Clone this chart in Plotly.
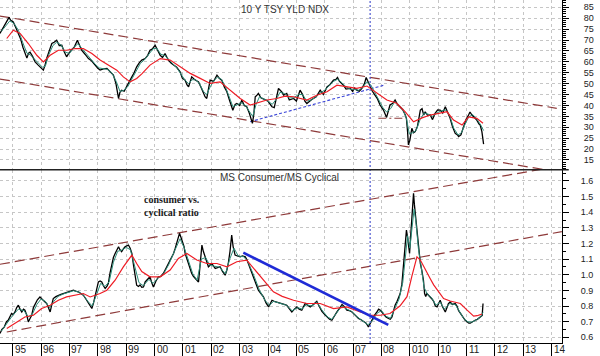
import plotly.graph_objects as go

# ---------------- data (decimal year, value) ----------------
tsy_close = [
    (1994.55, 73.0), (1994.62, 74.5), (1994.70, 76.5), (1994.78, 78.0), (1994.87, 80.4), (1994.93, 79.0),
    (1995.02, 78.3), (1995.10, 76.0), (1995.19, 73.6), (1995.28, 70.5), (1995.36, 66.7), (1995.44, 63.5),
    (1995.50, 61.7), (1995.56, 64.0), (1995.61, 64.4), (1995.70, 62.5), (1995.79, 60.0), (1995.90, 58.5),
    (1996.02, 57.0), (1996.08, 56.2), (1996.14, 58.5), (1996.20, 61.7), (1996.30, 65.5), (1996.38, 68.4),
    (1996.46, 69.0), (1996.55, 69.9), (1996.64, 67.5), (1996.73, 67.6), (1996.82, 64.5), (1996.90, 62.3),
    (1996.98, 64.0), (1997.08, 65.3), (1997.18, 67.0), (1997.28, 69.9), (1997.36, 67.5), (1997.43, 65.3),
    (1997.55, 63.5), (1997.67, 61.5), (1997.78, 60.5), (1997.90, 58.5), (1998.00, 57.0), (1998.08, 56.2),
    (1998.20, 56.8), (1998.32, 57.0), (1998.44, 55.5), (1998.55, 53.9), (1998.64, 50.0), (1998.73, 43.2),
    (1998.78, 46.0), (1998.84, 47.0), (1998.93, 46.5), (1999.02, 48.5), (1999.10, 50.5), (1999.20, 53.1),
    (1999.28, 55.0), (1999.37, 57.7), (1999.46, 59.5), (1999.55, 60.8), (1999.67, 61.5), (1999.76, 63.0),
    (1999.84, 65.3), (1999.93, 66.0), (2000.02, 67.6), (2000.10, 65.5), (2000.20, 63.0), (2000.28, 62.0),
    (2000.37, 63.8), (2000.44, 62.0), (2000.49, 60.8), (2000.58, 59.5), (2000.67, 58.5), (2000.78, 57.5),
    (2000.90, 55.4), (2000.98, 52.5), (2001.08, 51.6), (2001.14, 49.5), (2001.20, 48.5), (2001.26, 50.5),
    (2001.31, 53.1), (2001.40, 52.0), (2001.48, 51.5), (2001.55, 50.8), (2001.65, 48.0), (2001.72, 46.0),
    (2001.78, 44.0), (2001.84, 43.2), (2001.90, 47.0), (2001.96, 51.6), (2002.08, 51.0), (2002.20, 53.9),
    (2002.28, 52.5), (2002.37, 51.6), (2002.46, 48.5), (2002.55, 46.3), (2002.64, 42.5), (2002.72, 39.4),
    (2002.76, 37.8), (2002.84, 40.5), (2002.90, 40.9), (2003.00, 40.0), (2003.08, 42.5), (2003.16, 40.0),
    (2003.25, 39.4), (2003.34, 36.5), (2003.40, 34.0), (2003.45, 31.8), (2003.50, 36.0), (2003.55, 44.0),
    (2003.60, 44.5), (2003.66, 45.5), (2003.75, 43.5), (2003.84, 43.0), (2003.90, 42.5), (2004.00, 42.0),
    (2004.08, 40.5), (2004.14, 39.4), (2004.22, 39.0), (2004.30, 44.5), (2004.37, 47.8), (2004.43, 47.0),
    (2004.50, 46.0), (2004.55, 44.7), (2004.66, 45.5), (2004.75, 42.5), (2004.84, 43.0), (2004.90, 43.2),
    (2005.00, 42.0), (2005.13, 47.0), (2005.22, 45.0), (2005.30, 42.0), (2005.37, 40.9), (2005.45, 42.0),
    (2005.52, 42.5), (2005.60, 43.2), (2005.70, 44.0), (2005.84, 47.0), (2005.95, 45.0), (2006.08, 48.5),
    (2006.18, 49.5), (2006.31, 51.6), (2006.40, 52.0), (2006.45, 52.8), (2006.52, 51.0), (2006.60, 50.0),
    (2006.66, 49.3), (2006.75, 47.5), (2006.90, 47.8), (2006.98, 46.5), (2007.05, 48.0), (2007.13, 47.0),
    (2007.22, 46.5), (2007.31, 47.8), (2007.40, 50.0), (2007.46, 52.8), (2007.52, 51.0), (2007.60, 49.3),
    (2007.68, 46.5), (2007.77, 44.7), (2007.86, 43.0), (2007.95, 40.2), (2008.03, 38.5), (2008.07, 37.9),
    (2008.18, 34.5), (2008.30, 40.2), (2008.40, 41.0), (2008.48, 42.5), (2008.56, 40.5), (2008.65, 39.4),
    (2008.75, 38.0), (2008.84, 35.6), (2008.88, 34.0), (2008.92, 28.0), (2008.95, 21.9), (2009.00, 24.0),
    (2009.07, 29.5), (2009.13, 27.5), (2009.19, 28.0), (2009.27, 30.5), (2009.37, 37.9), (2009.43, 38.5),
    (2009.49, 35.6), (2009.54, 37.1), (2009.63, 35.5), (2009.72, 35.6), (2009.80, 33.5), (2009.89, 36.4),
    (2009.98, 38.0), (2010.07, 37.9), (2010.16, 36.5), (2010.25, 39.4), (2010.33, 37.0), (2010.42, 34.1),
    (2010.50, 30.5), (2010.60, 27.2), (2010.68, 26.5), (2010.72, 25.7), (2010.80, 26.5), (2010.90, 31.0),
    (2010.98, 33.5), (2011.07, 35.6), (2011.12, 37.0), (2011.19, 35.6), (2011.28, 34.5), (2011.36, 33.3),
    (2011.44, 31.5), (2011.48, 31.0), (2011.54, 28.0), (2011.58, 25.0), (2011.60, 22.3),
]
tsy_short_avg = [
    (1994.60, 74.0), (1994.75, 76.5), (1994.90, 78.8), (1995.05, 77.5), (1995.20, 74.5), (1995.35, 69.0),
    (1995.50, 64.0), (1995.62, 63.2), (1995.75, 61.5), (1995.90, 59.2), (1996.05, 57.5), (1996.15, 58.0),
    (1996.28, 63.5), (1996.42, 67.5), (1996.55, 69.0), (1996.70, 67.8), (1996.85, 64.5), (1997.00, 63.8),
    (1997.15, 66.5), (1997.30, 68.3), (1997.45, 66.0), (1997.60, 63.5), (1997.75, 61.0), (1997.90, 59.0),
    (1998.05, 57.2), (1998.20, 56.8), (1998.35, 56.5), (1998.50, 54.8), (1998.65, 51.0), (1998.78, 46.5),
    (1998.90, 46.8), (1999.05, 48.5), (1999.20, 52.0), (1999.35, 56.0), (1999.50, 59.3), (1999.65, 61.0),
    (1999.80, 63.8), (1999.95, 66.0), (2000.08, 66.2), (2000.22, 63.5), (2000.37, 62.8), (2000.50, 61.0),
    (2000.65, 59.0), (2000.80, 57.0), (2000.95, 54.0), (2001.08, 51.5), (2001.20, 50.0), (2001.32, 51.8),
    (2001.45, 51.8), (2001.58, 50.0), (2001.72, 46.5), (2001.84, 45.0), (2001.96, 48.5), (2002.10, 51.5),
    (2002.22, 53.0), (2002.36, 52.0), (2002.50, 48.5), (2002.62, 44.0), (2002.76, 39.5), (2002.90, 40.2),
    (2003.05, 41.2), (2003.20, 40.0), (2003.35, 37.0), (2003.46, 35.0), (2003.58, 40.5), (2003.70, 44.0),
    (2003.85, 43.0), (2004.00, 42.0), (2004.15, 40.5), (2004.30, 43.0), (2004.42, 46.0), (2004.58, 45.5),
    (2004.75, 43.5), (2004.90, 43.5), (2005.08, 45.0), (2005.22, 45.0), (2005.37, 42.0), (2005.52, 42.5),
    (2005.68, 43.8), (2005.84, 45.8), (2006.00, 47.0), (2006.15, 49.0), (2006.30, 51.0), (2006.45, 52.0),
    (2006.60, 50.5), (2006.75, 48.5), (2006.90, 47.5), (2007.05, 47.3), (2007.20, 47.0), (2007.35, 48.5),
    (2007.48, 50.8), (2007.62, 49.5), (2007.77, 46.0), (2007.92, 42.0), (2008.05, 39.0), (2008.18, 37.0),
    (2008.32, 38.5), (2008.46, 41.5), (2008.60, 40.5), (2008.75, 38.5), (2008.88, 34.0), (2008.98, 27.0),
    (2009.10, 27.5), (2009.22, 28.5), (2009.36, 33.5), (2009.50, 36.5), (2009.65, 36.0), (2009.80, 35.0),
    (2009.95, 36.5), (2010.10, 37.5), (2010.25, 38.0), (2010.40, 35.5), (2010.55, 29.5), (2010.70, 26.5),
    (2010.82, 27.5), (2010.95, 31.5), (2011.08, 34.8), (2011.22, 35.8), (2011.36, 33.8), (2011.50, 31.0),
    (2011.60, 28.5),
]
tsy_long_avg = [
    (1994.79, 70.7), (1995.02, 74.5), (1995.26, 73.0), (1995.55, 68.4), (1995.85, 63.0), (1996.08, 60.0),
    (1996.32, 63.0), (1996.61, 65.3), (1996.90, 65.3), (1997.20, 66.1), (1997.49, 66.1), (1997.79, 63.8),
    (1998.08, 60.8), (1998.37, 58.5), (1998.67, 56.2), (1998.90, 53.1), (1999.14, 50.8), (1999.37, 52.4),
    (1999.55, 54.5), (1999.84, 58.5), (2000.20, 61.5), (2000.55, 60.8), (2000.90, 57.7), (2001.26, 54.7),
    (2001.61, 52.4), (2001.96, 50.1), (2002.31, 50.8), (2002.66, 47.0), (2003.02, 43.2), (2003.37, 40.2),
    (2003.60, 41.0), (2003.96, 42.5), (2004.31, 43.2), (2004.60, 44.3), (2004.90, 44.0), (2005.37, 42.5),
    (2005.72, 44.7), (2006.08, 46.3), (2006.43, 49.3), (2006.78, 48.5), (2007.13, 47.8), (2007.49, 48.9),
    (2007.84, 45.5), (2008.19, 42.5), (2008.54, 41.0), (2008.84, 37.1), (2009.13, 32.5), (2009.43, 34.3),
    (2009.72, 35.6), (2010.07, 36.4), (2010.31, 37.1), (2010.54, 33.3), (2010.84, 31.0), (2011.07, 34.8),
    (2011.36, 34.1), (2011.58, 31.8),
]

ratio_close = [
    (1994.55, 0.624), (1994.62, 0.650), (1994.70, 0.665), (1994.78, 0.700), (1994.84, 0.709), (1994.90, 0.735),
    (1994.96, 0.752), (1995.02, 0.745), (1995.08, 0.762), (1995.14, 0.790), (1995.20, 0.805), (1995.26, 0.780),
    (1995.32, 0.762), (1995.38, 0.780), (1995.43, 0.773), (1995.50, 0.740), (1995.55, 0.698), (1995.61, 0.720),
    (1995.67, 0.741), (1995.73, 0.790), (1995.79, 0.816), (1995.87, 0.840), (1995.96, 0.858), (1996.02, 0.845),
    (1996.08, 0.837), (1996.14, 0.825), (1996.20, 0.816), (1996.26, 0.790), (1996.32, 0.762), (1996.38, 0.810),
    (1996.43, 0.848), (1996.52, 0.860), (1996.61, 0.869), (1996.70, 0.875), (1996.78, 0.880), (1996.87, 0.885),
    (1996.96, 0.891), (1997.05, 0.895), (1997.14, 0.901), (1997.22, 0.895), (1997.31, 0.891), (1997.40, 0.880),
    (1997.49, 0.869), (1997.58, 0.845), (1997.67, 0.816), (1997.73, 0.800), (1997.79, 0.784), (1997.85, 0.820),
    (1997.90, 0.858), (1997.96, 0.910), (1998.02, 0.954), (1998.08, 0.960), (1998.14, 0.954), (1998.20, 0.930),
    (1998.26, 0.912), (1998.32, 0.925), (1998.37, 0.944), (1998.43, 1.010), (1998.49, 1.072), (1998.55, 1.110),
    (1998.61, 1.136), (1998.67, 1.160), (1998.73, 1.179), (1998.78, 1.160), (1998.84, 1.147), (1998.90, 1.165),
    (1998.96, 1.179), (1999.02, 1.185), (1999.08, 1.190), (1999.14, 1.170), (1999.20, 1.136), (1999.26, 1.060),
    (1999.31, 0.987), (1999.37, 0.933), (1999.43, 0.925), (1999.49, 0.935), (1999.55, 0.920), (1999.61, 0.922),
    (1999.67, 0.954), (1999.75, 0.970), (1999.84, 0.987), (1999.90, 0.950), (1999.96, 0.922), (2000.05, 0.960),
    (2000.14, 0.987), (2000.22, 0.990), (2000.31, 1.008), (2000.40, 1.040), (2000.49, 1.072), (2000.58, 1.100),
    (2000.67, 1.136), (2000.73, 1.170), (2000.78, 1.200), (2000.83, 1.230), (2000.88, 1.265), (2000.94, 1.235),
    (2000.99, 1.211), (2001.04, 1.180), (2001.08, 1.136), (2001.14, 1.100), (2001.20, 1.072), (2001.26, 1.040),
    (2001.31, 1.008), (2001.37, 0.990), (2001.43, 0.976), (2001.49, 0.965), (2001.55, 0.954), (2001.60, 1.050),
    (2001.64, 1.150), (2001.67, 1.190), (2001.72, 1.150), (2001.78, 1.115), (2001.84, 1.080), (2001.90, 1.051),
    (2001.96, 1.060), (2002.02, 1.072), (2002.08, 1.055), (2002.14, 1.040), (2002.22, 1.045), (2002.31, 1.051),
    (2002.40, 1.020), (2002.49, 0.997), (2002.55, 1.030), (2002.60, 1.072), (2002.66, 1.150), (2002.72, 1.254),
    (2002.77, 1.180), (2002.84, 1.126), (2002.92, 1.120), (2003.02, 1.115), (2003.10, 1.120), (2003.20, 1.115),
    (2003.26, 1.095), (2003.31, 1.072), (2003.40, 1.030), (2003.49, 0.987), (2003.57, 0.945), (2003.66, 0.901),
    (2003.75, 0.880), (2003.84, 0.858), (2003.93, 0.820), (2004.02, 0.794), (2004.08, 0.815), (2004.14, 0.837),
    (2004.22, 0.830), (2004.31, 0.826), (2004.40, 0.820), (2004.49, 0.816), (2004.57, 0.810), (2004.66, 0.805),
    (2004.75, 0.780), (2004.84, 0.762), (2004.93, 0.780), (2005.02, 0.794), (2005.10, 0.780), (2005.19, 0.773),
    (2005.25, 0.795), (2005.31, 0.816), (2005.40, 0.805), (2005.49, 0.794), (2005.60, 0.810), (2005.72, 0.830),
    (2005.80, 0.800), (2005.90, 0.765), (2006.00, 0.745), (2006.08, 0.730), (2006.17, 0.715), (2006.25, 0.709),
    (2006.34, 0.740), (2006.43, 0.762), (2006.52, 0.785), (2006.61, 0.810), (2006.70, 0.795), (2006.78, 0.773),
    (2006.87, 0.770), (2006.96, 0.762), (2007.08, 0.740), (2007.19, 0.720), (2007.28, 0.712), (2007.37, 0.700),
    (2007.46, 0.690), (2007.54, 0.666), (2007.60, 0.690), (2007.66, 0.709), (2007.75, 0.740), (2007.84, 0.762),
    (2007.90, 0.780), (2007.96, 0.773), (2008.02, 0.760), (2008.07, 0.745), (2008.16, 0.730), (2008.25, 0.720),
    (2008.31, 0.715), (2008.37, 0.730), (2008.43, 0.770), (2008.48, 0.805), (2008.55, 0.830), (2008.60, 0.850),
    (2008.66, 0.880), (2008.72, 0.940), (2008.77, 1.060), (2008.81, 1.180), (2008.84, 1.222), (2008.88, 1.286),
    (2008.92, 1.240), (2008.96, 1.180), (2008.99, 1.136), (2009.03, 1.250), (2009.07, 1.350), (2009.11, 1.460),
    (2009.13, 1.521), (2009.16, 1.450), (2009.19, 1.393), (2009.23, 1.300), (2009.27, 1.222), (2009.32, 1.130),
    (2009.37, 1.072), (2009.42, 1.030), (2009.48, 0.965), (2009.52, 0.880), (2009.56, 0.860), (2009.60, 0.880),
    (2009.66, 0.870), (2009.72, 0.858), (2009.78, 0.845), (2009.84, 0.830), (2009.90, 0.800), (2009.96, 0.794),
    (2010.02, 0.820), (2010.07, 0.837), (2010.14, 0.800), (2010.20, 0.775), (2010.25, 0.762), (2010.31, 0.790),
    (2010.36, 0.815), (2010.42, 0.826), (2010.50, 0.810), (2010.60, 0.816), (2010.66, 0.800), (2010.72, 0.770),
    (2010.78, 0.752), (2010.86, 0.735), (2010.95, 0.709), (2011.02, 0.700), (2011.08, 0.690), (2011.13, 0.690),
    (2011.20, 0.700), (2011.30, 0.709), (2011.38, 0.715), (2011.45, 0.725), (2011.50, 0.730), (2011.55, 0.740),
    (2011.58, 0.816),
]
ratio_short_avg = [
    (1994.60, 0.640), (1994.80, 0.690), (1995.00, 0.740), (1995.20, 0.780), (1995.40, 0.770), (1995.55, 0.730),
    (1995.70, 0.750), (1995.85, 0.810), (1996.00, 0.845), (1996.15, 0.830), (1996.30, 0.790), (1996.45, 0.830),
    (1996.60, 0.862), (1996.80, 0.878), (1997.00, 0.890), (1997.15, 0.898), (1997.35, 0.888), (1997.50, 0.868),
    (1997.65, 0.830), (1997.80, 0.800), (1997.95, 0.870), (1998.10, 0.945), (1998.25, 0.925), (1998.40, 0.955),
    (1998.55, 1.080), (1998.70, 1.150), (1998.85, 1.158), (1999.00, 1.175), (1999.15, 1.160), (1999.30, 1.050),
    (1999.45, 0.950), (1999.60, 0.930), (1999.80, 0.970), (1999.95, 0.945), (2000.10, 0.975), (2000.30, 1.000),
    (2000.50, 1.065), (2000.70, 1.150), (2000.90, 1.230), (2001.05, 1.170), (2001.20, 1.085), (2001.35, 1.005),
    (2001.50, 0.965), (2001.65, 1.100), (2001.80, 1.110), (2001.95, 1.060), (2002.10, 1.055), (2002.30, 1.048),
    (2002.50, 1.005), (2002.65, 1.100), (2002.80, 1.170), (2002.95, 1.120), (2003.15, 1.115), (2003.30, 1.080),
    (2003.50, 0.995), (2003.70, 0.900), (2003.90, 0.835), (2004.05, 0.805), (2004.20, 0.830), (2004.45, 0.818),
    (2004.65, 0.805), (2004.85, 0.770), (2005.05, 0.790), (2005.20, 0.780), (2005.35, 0.808), (2005.55, 0.800),
    (2005.72, 0.825), (2005.90, 0.775), (2006.10, 0.730), (2006.25, 0.715), (2006.42, 0.755), (2006.60, 0.800),
    (2006.78, 0.780), (2006.95, 0.765), (2007.15, 0.730), (2007.35, 0.705), (2007.52, 0.680), (2007.68, 0.705),
    (2007.85, 0.755), (2008.00, 0.770), (2008.15, 0.735), (2008.32, 0.722), (2008.48, 0.790), (2008.62, 0.845),
    (2008.75, 0.950), (2008.85, 1.150), (2008.92, 1.250), (2009.00, 1.170), (2009.08, 1.300), (2009.15, 1.420),
    (2009.22, 1.330), (2009.30, 1.170), (2009.40, 1.050), (2009.50, 0.920), (2009.62, 0.875), (2009.78, 0.850),
    (2009.92, 0.805), (2010.07, 0.825), (2010.22, 0.780), (2010.40, 0.815), (2010.60, 0.810), (2010.75, 0.765),
    (2010.90, 0.720), (2011.05, 0.698), (2011.20, 0.698), (2011.35, 0.712), (2011.50, 0.730), (2011.58, 0.760),
]
ratio_long_avg = [
    (1994.79, 0.656), (1995.14, 0.698), (1995.43, 0.730), (1995.73, 0.741), (1996.02, 0.784), (1996.32, 0.805),
    (1996.61, 0.837), (1996.90, 0.858), (1997.20, 0.869), (1997.49, 0.880), (1997.73, 0.858), (1998.08, 0.880),
    (1998.32, 0.901), (1998.61, 0.965), (1998.90, 1.050), (1999.20, 1.126), (1999.37, 1.072), (1999.55, 1.020),
    (1999.84, 0.987), (2000.20, 0.987), (2000.55, 1.030), (2000.84, 1.104), (2001.14, 1.136), (2001.49, 1.094),
    (2001.84, 1.072), (2002.20, 1.072), (2002.55, 1.051), (2002.90, 1.083), (2003.25, 1.094), (2003.55, 1.030),
    (2003.84, 0.965), (2004.19, 0.891), (2004.50, 0.862), (2004.90, 0.837), (2005.37, 0.816), (2005.84, 0.816),
    (2006.31, 0.784), (2006.78, 0.794), (2007.25, 0.762), (2007.60, 0.741), (2007.96, 0.741), (2008.30, 0.752),
    (2008.65, 0.800), (2008.90, 0.860), (2009.07, 0.990), (2009.25, 1.115), (2009.37, 1.094), (2009.60, 1.010),
    (2009.72, 0.975), (2009.84, 0.935), (2010.07, 0.880), (2010.19, 0.848), (2010.42, 0.832), (2010.54, 0.826),
    (2010.78, 0.816), (2011.01, 0.775), (2011.13, 0.755), (2011.25, 0.735), (2011.37, 0.738), (2011.54, 0.748),
]

# trend lines drawn on the chart: (start year, start value, end year, end value)
tsy_channel_upper = (1994.55, 81.0, 2014.18, 38.7)
tsy_channel_lower = (1994.55, 52.1, 2013.70, 10.7)
tsy_rising_support = (2003.37, 32.55, 2008.12, 49.4)
tsy_2008_floor = (2007.89, 34.1, 2008.83, 34.1)
ratio_channel_upper = (1994.55, 1.067, 2013.65, 1.675)
ratio_channel_lower = (1994.79, 0.634, 2014.36, 1.276)
ratio_downtrend = (2003.13, 1.141, 2008.24, 0.679)
marker_year = 2007.60

years = list(range(1995, 2015))
year_labels = ["95", "96", "97", "98", "99", "00", "01", "02", "03", "04",
               "05", "06", "07", "08", "010", "10", "11", "12", "13", "14"]
tsy_ticks = list(range(15, 90, 5))
ratio_ticks = [0.6, 0.7, 0.8, 0.9, 1.0, 1.1, 1.2, 1.3, 1.4, 1.5, 1.6]

# ---------------- styling ----------------
FONT = "Liberation Sans, Arial, sans-serif"
TREND = "#8e3a3a"
TEAL = "#2b8c78"
RED = "#ee1c25"
GRID = "#c6c6c6"
X_RANGE = [1994.552, 2014.364]

fig = go.Figure()


def add_series(pairs, color, width, xa, ya):
    xs, ys = zip(*pairs)
    fig.add_trace(go.Scatter(x=list(xs), y=list(ys), mode="lines", xaxis=xa, yaxis=ya,
                             line=dict(color=color, width=width), hoverinfo="skip"))


def add_trend(seg, color, width, dash, xa, ya):
    fig.add_trace(go.Scatter(x=[seg[0], seg[2]], y=[seg[1], seg[3]], mode="lines",
                             xaxis=xa, yaxis=ya, hoverinfo="skip",
                             line=dict(color=color, width=width, dash=dash)))


# top panel: 10 Y TSY YLD NDX
add_trend(tsy_channel_upper, TREND, 1.2, "10px,5px", "x2", "y2")
add_trend(tsy_channel_lower, TREND, 1.2, "10px,5px", "x2", "y2")
add_trend(tsy_rising_support, "#3b45d8", 1.1, "3px,2px", "x2", "y2")
add_series(tsy_close, "#000000", 1.3, "x2", "y2")
add_series(tsy_short_avg, TEAL, 1.0, "x2", "y2")
add_series(tsy_long_avg, RED, 1.2, "x2", "y2")
add_trend(tsy_2008_floor, TREND, 1.1, "8px,3px,2px,3px", "x2", "y2")

# bottom panel: MS Consumer / MS Cyclical
add_trend(ratio_channel_upper, TREND, 1.2, "10px,5px", "x", "y")
add_trend(ratio_channel_lower, TREND, 1.2, "10px,5px", "x", "y")
add_series(ratio_close, "#000000", 1.3, "x", "y")
add_series(ratio_short_avg, TEAL, 1.0, "x", "y")
add_series(ratio_long_avg, RED, 1.2, "x", "y")
add_trend(ratio_downtrend, "#1f2bd6", 2.6, "solid", "x", "y")

grid = dict(showgrid=True, gridcolor=GRID, gridwidth=1, griddash="3px,3px", zeroline=False)

fig.update_layout(
    width=600, height=356,
    margin=dict(l=0, r=38, t=0, b=13),
    paper_bgcolor="white", plot_bgcolor="white",
    showlegend=False,
    font=dict(family=FONT, size=9, color="#222"),
    xaxis=dict(domain=[0, 1], range=X_RANGE, anchor="y", tickmode="array", tickvals=years,
               ticks="outside", ticklen=13, tickcolor="#000", tickwidth=1,
               showticklabels=False, showline=True, linecolor="#000", linewidth=1, **grid),
    xaxis2=dict(domain=[0, 1], range=X_RANGE, anchor="y2", matches="x", tickmode="array",
                tickvals=years, ticks="", showticklabels=False, showline=False, **grid),
    yaxis=dict(domain=[0, 0.5044], range=[0.5635, 1.670], anchor="x", side="right",
               tickmode="array", tickvals=ratio_ticks, ticktext=[f"{v:.1f}" for v in ratio_ticks],
               ticks="outside", ticklen=6, tickcolor="#000", ticklabelstandoff=10,
               minor=dict(tickmode="linear", tick0=0, dtick=0.05, ticks="outside", ticklen=3,
                          tickcolor="#000", showgrid=False),
               showline=True, linecolor="#000", linewidth=1,
               tickfont=dict(family=FONT, size=9, color="#222"), **grid),
    yaxis2=dict(domain=[0.5058, 1], range=[10.63, 88.35], anchor="x2", side="right",
                tickmode="array", tickvals=tsy_ticks, ticks="outside", ticklen=6, tickcolor="#000",
                ticklabelstandoff=13,
                minor=dict(tickmode="linear", tick0=0, dtick=1, ticks="outside", ticklen=3,
                           tickcolor="#000", showgrid=False),
                showline=True, linecolor="#000", linewidth=1,
                tickfont=dict(family=FONT, size=9, color="#222"), **grid),
)

# vertical marker line across both panels
fig.add_shape(type="line", xref="x", yref="paper", x0=marker_year, x1=marker_year, y0=0, y1=1,
              line=dict(color="#4a55d0", width=1.2, dash="2px,2px"))
# panel separator
fig.add_shape(type="line", xref="paper", yref="paper", x0=0, x1=1.012, y0=0.5051, y1=0.5051,
              line=dict(color="#222", width=1.6))

# year labels, placed just right of each year tick
for yr, lab in zip(years, year_labels):
    fig.add_annotation(x=yr, xref="x", y=-0.019, yref="paper", text=lab, showarrow=False,
                       xanchor="left", yanchor="middle", xshift=0,
                       font=dict(family=FONT, size=10, color="#222"))

fig.add_annotation(x=0.507, y=0.972, xref="paper", yref="paper", text="10 Y TSY YLD NDX",
                   showarrow=False, xanchor="center", yanchor="middle",
                   font=dict(family=FONT, size=10, color="#333"))
fig.add_annotation(x=0.498, y=0.483, xref="paper", yref="paper", text="MS Consumer/MS Cyclical",
                   showarrow=False, xanchor="center", yanchor="middle",
                   font=dict(family=FONT, size=10, color="#333"))
fig.add_annotation(x=0.252, y=0.400, xref="paper", yref="paper",
                   text="<b>consumer vs.<br>cyclical ratio</b>", align="left",
                   showarrow=False, xanchor="left", yanchor="middle",
                   font=dict(family="Liberation Serif, Times New Roman, serif", size=10, color="#1a1a1a"))

fig.write_html("out.html", config={"displayModeBar": False},
               post_script="document.body.style.margin='0px';")
